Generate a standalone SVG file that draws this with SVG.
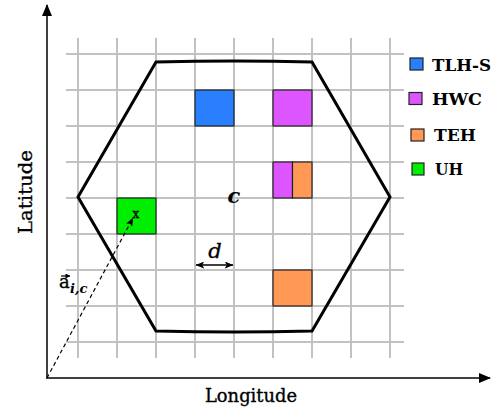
<svg xmlns="http://www.w3.org/2000/svg" width="500" height="418" viewBox="0 0 500 418">
  <style>
    .grid line { stroke: #c2c2c2; stroke-width: 2; }
    .axis { stroke: #404040; stroke-width: 2; fill: none; }
    .cell { stroke: #222; stroke-width: 1.2; }
    .tlhs { fill: #2a7fff; }
    .hwc { fill: #dd55ff; }
    .teh { fill: #ff9955; }
    .uh { fill: #00ee00; }
    .lbl { font-family: "DejaVu Serif", "Liberation Serif", serif; fill: #000; }
    .heavy { stroke: #000; stroke-width: 0.35; }
    .legend { font-family: "DejaVu Serif", "Liberation Serif", serif; font-weight: bold; font-size: 16px; fill: #000; }
  </style>
  <defs>
    <marker id="axhead" viewBox="0 0 12 10" refX="11" refY="5" markerWidth="12" markerHeight="10" markerUnits="userSpaceOnUse" orient="auto">
      <path d="M0,0 L12,5 L0,10 Z" fill="#000"/>
    </marker>
    <marker id="head" viewBox="0 0 10 8" refX="9.5" refY="4" markerWidth="9" markerHeight="7" markerUnits="userSpaceOnUse" orient="auto-start-reverse">
      <path d="M0,0 L10,4 L0,8 L2.5,4 Z" fill="#000"/>
    </marker>
    <marker id="vhead" viewBox="0 0 6 6" refX="5.5" refY="3" markerWidth="5" markerHeight="5" markerUnits="userSpaceOnUse" orient="auto">
      <path d="M0,0 L6,3 L0,6 Z" fill="#000"/>
    </marker>
  </defs>

  <!-- cell grid -->
  <g id="grid" class="grid">
    <line x1="78" y1="38" x2="78" y2="358"/>
    <line x1="117" y1="38" x2="117" y2="358"/>
    <line x1="156" y1="38" x2="156" y2="358"/>
    <line x1="195" y1="38" x2="195" y2="358"/>
    <line x1="234" y1="38" x2="234" y2="358"/>
    <line x1="273" y1="38" x2="273" y2="358"/>
    <line x1="312" y1="38" x2="312" y2="358"/>
    <line x1="351" y1="38" x2="351" y2="358"/>
    <line x1="390" y1="38" x2="390" y2="358"/>
    <line x1="66" y1="54" x2="404" y2="54"/>
    <line x1="66" y1="90" x2="404" y2="90"/>
    <line x1="66" y1="126" x2="404" y2="126"/>
    <line x1="66" y1="162" x2="404" y2="162"/>
    <line x1="66" y1="198" x2="404" y2="198"/>
    <line x1="66" y1="234" x2="404" y2="234"/>
    <line x1="66" y1="270" x2="404" y2="270"/>
    <line x1="66" y1="306" x2="404" y2="306"/>
    <line x1="66" y1="342" x2="404" y2="342"/>
  </g>

  <!-- hexagonal cell boundary -->
  <g id="hexagon">
    <path d="M78,197 L156,62 Q234,60 312,62 L390,197 L312,331 Q234,333 156,331 Z" fill="none" stroke="#000" stroke-width="3" stroke-linejoin="miter"/>
  </g>

  <!-- occupied cells -->
  <g id="cell-tlhs"><rect class="cell tlhs" x="195" y="90" width="39" height="36"/></g>
  <g id="cell-hwc"><rect class="cell hwc" x="273" y="90" width="39" height="36"/></g>
  <g id="cell-hwc-teh">
    <rect class="cell hwc" x="273" y="162" width="19.5" height="36"/>
    <rect class="cell teh" x="292.5" y="162" width="19.5" height="36"/>
  </g>
  <g id="cell-uh"><rect class="cell uh" x="117" y="198" width="39" height="36"/></g>
  <g id="cell-teh"><rect class="cell teh" x="273" y="270" width="39" height="36"/></g>

  <!-- axes -->
  <g id="axes">
    <line class="axis" x1="47" y1="379" x2="47" y2="5" marker-end="url(#axhead)"/>
    <line class="axis" x1="46" y1="378" x2="490" y2="378" marker-end="url(#axhead)"/>
    <text class="lbl heavy" font-size="18.5" text-anchor="middle" transform="translate(32,192) rotate(-90)" textLength="84" lengthAdjust="spacingAndGlyphs">Latitude</text>
    <text class="lbl heavy" font-size="18.5" x="251" y="402" text-anchor="middle" textLength="92" lengthAdjust="spacingAndGlyphs">Longitude</text>
  </g>

  <!-- connectors: position vector and cell size -->
  <g id="connectors">
    <line x1="47" y1="378" x2="133" y2="218" stroke="#000" stroke-width="1.2" stroke-dasharray="4,3" marker-end="url(#head)"/>
    <line x1="196" y1="265" x2="233" y2="265" stroke="#000" stroke-width="1.5" marker-start="url(#head)" marker-end="url(#head)"/>
  </g>

  <!-- labels -->
  <g id="labels">
    <text class="lbl heavy" font-size="12" x="136" y="218" text-anchor="middle">x</text>
    <text class="lbl" font-size="21" font-style="italic" font-weight="bold" x="234" y="203" text-anchor="middle">c</text>
    <text class="lbl heavy" font-size="21" font-style="italic" x="215" y="258" text-anchor="middle">d</text>
    <line x1="61" y1="276" x2="70" y2="276" stroke="#000" stroke-width="1.2" marker-end="url(#vhead)"/>
    <text class="lbl heavy" font-size="18" x="59" y="288">a</text>
    <text class="lbl" font-size="13" font-weight="bold" font-style="italic" x="70" y="293">i,c</text>
  </g>

  <!-- legend -->
  <g id="legend">
    <g id="legend-tlhs"><rect class="cell tlhs" x="410" y="58" width="13" height="12"/><text class="legend" x="432" y="71" textLength="59" lengthAdjust="spacingAndGlyphs">TLH-S</text></g>
    <g id="legend-hwc"><rect class="cell hwc" x="409" y="92.5" width="13" height="12"/><text class="legend" x="432" y="104.5" textLength="50" lengthAdjust="spacingAndGlyphs">HWC</text></g>
    <g id="legend-teh"><rect class="cell teh" x="411" y="129" width="13" height="12"/><text class="legend" x="434" y="141" textLength="42" lengthAdjust="spacingAndGlyphs">TEH</text></g>
    <g id="legend-uh"><rect class="cell uh" x="412" y="163" width="12" height="12"/><text class="legend" x="435" y="175" textLength="28" lengthAdjust="spacingAndGlyphs">UH</text></g>
  </g>
</svg>
